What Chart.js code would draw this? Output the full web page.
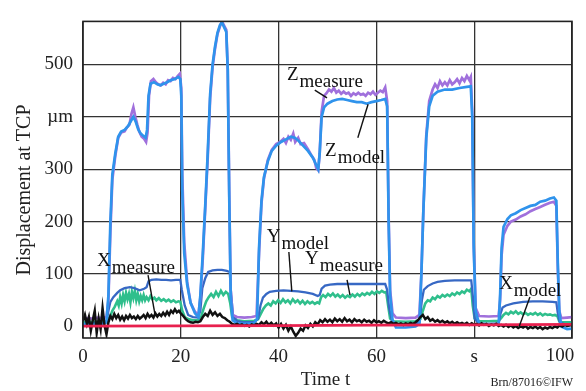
<!DOCTYPE html>
<html>
<head>
<meta charset="utf-8">
<script src="https://cdn.jsdelivr.net/npm/chart.js@4.4.0/dist/chart.umd.min.js"></script>
<style>
html,body{margin:0;padding:0;background:#fff;}
#wrap{width:586px;height:391px;}
</style>
</head>
<body>
<div id="wrap"><canvas id="c" width="586" height="391"></canvas></div>
<script>
// ---- tick labels ----
const xTickVals = [0, 20, 40, 60, 80, 100];
const xTickLabels = ["0", "20", "40", "60", "s", "100"];
const yTickVals = [0, 100, 200, 300, 400, 500];
const yTickLabels = ["0", "100", "200", "300", "µm", "500"];

// ---- series: [time s, displacement µm] ----
const zMeasure = [[0,14],[1,16],[2,15],[3,17],[4,16],[4.8,18],[5.2,50],[5.6,180],[6,280],[6.6,325],[7.2,360],[7.8,370],[8.5,372],[9,380],[9.5,385],[9.9,405],[10.3,418],[10.7,400],[11.1,385],[11.5,372],[12,362],[12.5,358],[12.9,352],[13.2,370],[13.5,440],[13.9,468],[14.4,472],[14.9,466],[15.4,462],[15.9,460],[16.4,465],[16.9,462],[17.4,470],[17.9,468],[18.4,474],[18.9,472],[19.4,478],[19.8,482],[20.1,455],[20.3,290],[20.7,160],[21.3,85],[22,45],[22.9,28],[23.6,22],[24,55],[24.5,130],[25,225],[25.5,320],[26,435],[26.5,495],[27,530],[27.5,558],[28,572],[28.4,582],[28.8,575],[29.3,566],[29.6,490],[29.9,260],[30.2,70],[30.6,22],[31.5,18],[33,17],[34.5,18],[35.5,20],[36,140],[36.5,235],[37,282],[37.8,318],[38.6,337],[39.5,348],[40.3,352],[41,358],[41.5,350],[42,362],[42.5,356],[43,368],[43.4,352],[44,360],[44.5,348],[45.2,350],[46,338],[46.8,325],[47.3,318],[47.7,302],[48.1,298],[48.4,330],[48.8,410],[49.3,440],[49.8,445],[50.3,452],[50.8,448],[51.3,455],[51.8,446],[52.3,450],[52.8,444],[53.3,448],[53.8,444],[54.3,446],[54.8,440],[55.3,445],[55.8,442],[56.3,446],[56.8,442],[57.3,444],[57.8,440],[58.3,446],[58.8,443],[59.3,448],[59.8,442],[60.3,446],[60.8,450],[61.3,447],[61.8,456],[62.2,430],[62.5,210],[62.8,70],[63.3,25],[64,17],[66,16],[68,17],[68.8,22],[69.2,100],[69.6,220],[70.2,365],[70.8,430],[71.5,452],[72,462],[72.5,455],[73,468],[73.5,460],[74,466],[74.5,460],[75,470],[75.5,462],[76,466],[76.5,472],[77,464],[77.5,474],[78,468],[78.5,478],[79,470],[79.3,476],[79.6,410],[79.9,160],[80.3,35],[81,20],[83,19],[85,20],[85.3,50],[85.6,135],[86,175],[86.8,192],[87.5,200],[88.5,204],[89.5,210],[90.5,214],[91.5,220],[92.5,224],[93.5,228],[94.5,232],[95.5,236],[96.3,238],[96.8,230],[97.1,110],[97.4,30],[97.8,16],[99,17],[100,18]];

const zModel = [[0,4],[1,5],[2,4],[3,6],[4,5],[4.8,8],[5.2,60],[5.6,200],[6,290],[6.6,330],[7.2,362],[7.8,372],[8.5,375],[9.2,382],[9.8,392],[10.3,400],[10.8,390],[11.3,376],[11.8,368],[12.3,364],[12.8,360],[13.1,375],[13.4,440],[13.8,463],[14.5,466],[15.2,462],[15.8,460],[16.5,463],[17.2,466],[18,470],[18.8,472],[19.5,476],[19.9,472],[20.1,440],[20.3,260],[20.7,140],[21.3,80],[22,45],[22.9,25],[23.6,18],[24,60],[24.5,140],[25,231],[25.5,330],[26,443],[26.5,500],[27,534],[27.5,560],[28,575],[28.4,580],[28.8,572],[29.3,562],[29.6,490],[29.9,250],[30.2,60],[30.6,12],[31.5,6],[33,5],[35,6],[35.6,15],[36,150],[36.5,240],[37,285],[37.8,315],[38.6,335],[39.5,345],[40.5,352],[41.5,357],[42.5,362],[43.3,360],[44,355],[45,345],[46,335],[47,322],[47.6,310],[48.1,300],[48.4,330],[48.8,400],[49.3,418],[50,425],[51,430],[52,433],[53,434],[54,432],[55,430],[56,428],[57,428],[58,425],[59,428],[60,430],[61,432],[61.8,434],[62.2,420],[62.5,200],[62.8,60],[63.3,12],[64,-2],[66,-2],[68,0],[68.8,5],[69.2,100],[69.6,220],[70.2,360],[70.8,420],[71.5,440],[72.5,448],[74,452],[75.5,452],[77,455],[78.5,457],[79.3,458],[79.6,400],[79.9,150],[80.3,30],[81,5],[83,4],[85,4],[85.3,60],[85.6,150],[86,190],[86.8,205],[87.5,212],[88.5,216],[89.5,222],[90.5,226],[91.5,230],[92.5,232],[93.5,238],[94.5,240],[95.5,244],[96.3,246],[96.8,240],[97.1,120],[97.4,30],[97.8,0],[99,-5],[100,-4]];

const yModel = [[0,5],[2,6],[4,6],[4.8,8],[5.2,30],[5.6,47],[6.2,56],[7,64],[7.6,69],[8.5,73],[9.6,75],[10.5,73],[11.6,69],[12.5,72],[13,75],[13.4,86],[14,89],[15,90],[16,89],[17,89],[18,88],[19,89],[19.9,89],[20.2,70],[20.8,40],[21.5,22],[22.5,18],[23.5,17],[24,30],[24.4,73],[25,92],[25.6,104],[26.5,107],[27.5,108],[28.4,108],[29.4,106],[30,104],[30.3,60],[30.7,20],[31.5,10],[33,8],[35,8],[35.8,15],[36.3,40],[36.8,55],[37.5,62],[38.2,66],[39.5,68],[41,69],[42.5,68],[44,67],[45.5,65],[47,62],[48,58],[48.4,60],[48.8,72],[49.5,78],[50.5,80],[52,81],[54,81],[56,81],[58,81],[60,81],[61.8,81],[62.2,70],[62.6,35],[63.2,10],[64,4],[66,4],[68,5],[68.8,8],[69.3,50],[69.7,70],[70.5,77],[71.5,82],[72.5,85],[74,87],[76,88],[78,88],[79.4,88],[79.7,60],[80.1,15],[81,5],[83,5],[85,6],[85.4,25],[85.8,36],[86.5,40],[88,44],[90,47],[92,48],[94,48],[96,47],[96.8,46],[97.1,25],[97.5,8],[98.5,4],[100,5]];

const yMeasure = [[0,8],[2,9],[4,9],[5,10],[5.6,20],[6,30],[6.5,38],[7,48],[7.3,40],[7.6,56],[7.9,44],[8.2,60],[8.5,48],[8.8,64],[9.1,52],[9.4,62],[9.7,46],[10,66],[10.3,54],[10.6,68],[10.9,50],[11.2,62],[11.5,48],[11.8,58],[12.1,50],[12.4,60],[12.7,50],[13,56],[13.4,50],[13.8,58],[14.2,52],[14.6,55],[15,50],[15.5,54],[16,49],[16.5,52],[17,48],[17.5,51],[18,47],[18.5,50],[19,46],[19.5,48],[19.9,47],[20.3,30],[20.8,18],[21.5,14],[22.5,12],[23.5,12],[24.2,20],[24.7,35],[25.2,48],[25.7,56],[26.2,62],[26.7,56],[27.2,66],[27.7,58],[28.2,68],[28.7,60],[29.2,66],[29.7,62],[30.1,45],[30.5,18],[31.5,12],[33,10],[35,11],[35.8,14],[36.4,25],[36.9,34],[37.4,40],[37.9,44],[38.4,40],[38.9,48],[39.4,44],[39.9,50],[40.4,45],[40.9,52],[41.4,46],[41.9,50],[42.4,44],[42.9,52],[43.4,46],[43.9,50],[44.4,44],[44.9,49],[45.4,43],[45.9,48],[46.4,44],[46.9,47],[47.4,43],[47.9,46],[48.3,44],[48.7,56],[49.1,60],[49.6,56],[50.1,62],[50.6,58],[51.1,63],[51.6,57],[52.1,61],[52.6,56],[53.1,60],[53.6,55],[54.1,59],[54.6,56],[55.1,61],[55.6,57],[56.1,62],[56.6,58],[57.1,63],[57.6,60],[58.1,64],[58.6,61],[59.1,66],[59.6,62],[60.1,67],[60.6,64],[61.1,68],[61.6,65],[62,66],[62.4,40],[62.8,15],[63.5,10],[66,9],[68,10],[69,14],[69.5,30],[70,44],[70.5,50],[71,48],[71.5,55],[72,52],[72.5,58],[73,55],[73.5,60],[74,57],[74.5,61],[75,58],[75.5,63],[76,60],[76.5,65],[77,62],[77.5,67],[78,64],[78.5,70],[79,67],[79.4,72],[79.7,40],[80.1,15],[81,10],[83,10],[85,11],[85.5,16],[86,22],[86.5,26],[87,23],[87.5,28],[88,25],[88.5,29],[89,24],[89.5,27],[90,23],[90.5,26],[91,22],[91.5,25],[92,23],[92.5,26],[93,22],[93.5,25],[94,21],[94.5,24],[95,22],[95.5,23],[96,21],[96.5,22],[97,20],[97.4,10],[98,8],[100,8]];

const xMeasure = [[0,10],[0.4,22],[0.8,5],[1.2,18],[1.6,-8],[2,12],[2.4,30],[2.8,-12],[3.2,15],[3.6,-5],[4,35],[4.4,2],[4.8,-15],[5.2,8],[5.6,20],[6,14],[6.4,24],[6.8,16],[7.2,22],[7.6,13],[8,19],[8.4,12],[8.8,20],[9.2,15],[9.6,22],[10,16],[10.4,19],[10.8,14],[11.2,20],[11.6,15],[12,18],[12.4,22],[12.8,16],[13.2,24],[13.6,18],[14,22],[14.4,17],[14.8,25],[15.2,19],[15.6,24],[16,20],[16.4,26],[16.8,21],[17.2,28],[17.6,22],[18,30],[18.4,26],[18.8,33],[19.2,27],[19.6,30],[20,25],[20.5,20],[21,14],[21.5,10],[22,8],[22.5,7],[23,9],[23.5,8],[24,10],[24.5,18],[25,24],[25.5,20],[26,30],[26.5,22],[27,27],[27.5,20],[28,24],[28.5,18],[29,16],[29.5,12],[30,9],[30.5,5],[31,3],[31.5,5],[32,2],[32.5,4],[33,1],[33.5,3],[34,0],[34.5,4],[35,2],[35.5,5],[36,3],[36.5,8],[37,4],[37.5,9],[38,3],[38.5,7],[39,2],[39.5,6],[40,-2],[40.5,5],[41,-4],[41.5,3],[42,-8],[42.5,0],[43,-10],[43.5,-18],[44,-12],[44.5,-4],[45,-8],[45.5,2],[46,-3],[46.5,5],[47,0],[47.5,8],[48,4],[48.5,12],[49,8],[49.5,14],[50,9],[50.5,13],[51,8],[51.5,15],[52,10],[52.5,14],[53,9],[53.5,16],[54,10],[54.5,13],[55,8],[55.5,14],[56,10],[56.5,12],[57,8],[57.5,13],[58,9],[58.5,11],[59,7],[59.5,12],[60,8],[60.5,10],[61,7],[61.5,11],[62,8],[62.5,6],[63,8],[63.5,5],[64,7],[64.5,4],[65,6],[65.5,3],[66,6],[66.5,4],[67,7],[67.5,5],[68,8],[68.5,12],[69,18],[69.5,22],[70,14],[70.5,18],[71,11],[71.5,14],[72,9],[72.5,12],[73,8],[73.5,11],[74,7],[74.5,10],[75,6],[75.5,9],[76,5],[76.5,8],[77,5],[77.5,7],[78,4],[78.5,7],[79,3],[79.5,6],[80,3],[80.5,5],[81,2],[81.5,6],[82,3],[82.5,5],[83,1],[83.5,4],[84,2],[84.5,5],[85,1],[85.5,3],[86,0],[86.5,3],[87,-1],[87.5,2],[88,-2],[88.5,1],[89,-3],[89.5,0],[90,-2],[90.5,1],[91,-4],[91.5,-1],[92,-3],[92.5,0],[93,-4],[93.5,-1],[94,-5],[94.5,-2],[95,-4],[95.5,-1],[96,-3],[96.5,0],[97,-2],[97.5,2],[98,0],[98.5,3],[99,1],[100,3]];

const xModel = [[0,0.5],[20,1],[40,1.5],[60,2.5],[80,3],[100,4]];

// ---- annotation labels (data coordinates) ----
const labelMain = ["X", "Z", "Z", "Y", "Y", "X"];
const labelSub = ["measure", "measure", "model", "model", "measure", "model"];
const labelAt = [[2.86,116],[41.7,471],[49.5,325],[37.6,162],[45.4,120],[85.1,71]];
const leaderFrom = [[13.3,98],[47.4,451],[56.2,360],[42.1,142],[54.0,89],[91.4,56]];
const leaderTo = [[14.7,24],[49.9,436],[58.3,424],[42.7,67],[54.6,60],[89.2,0]];

const SERIF = "'Liberation Serif', 'DejaVu Serif', serif";

const overlay = {
  id: 'overlay',
  afterDatasetsDraw(chart) {
    const {ctx, chartArea: a, scales} = chart;
    const xs = scales.x, ys = scales.y;
    ctx.save();
    // frame
    ctx.strokeStyle = '#222';
    ctx.lineWidth = 1.6;
    ctx.strokeRect(a.left, a.top, a.right - a.left, a.bottom - a.top);
    // leaders
    ctx.lineWidth = 1.4;
    ctx.strokeStyle = '#111';
    for (let i = 0; i < leaderFrom.length; i++) {
      ctx.beginPath();
      ctx.moveTo(xs.getPixelForValue(leaderFrom[i][0]), ys.getPixelForValue(leaderFrom[i][1]));
      ctx.lineTo(xs.getPixelForValue(leaderTo[i][0]), ys.getPixelForValue(leaderTo[i][1]));
      ctx.stroke();
    }
    // labels
    ctx.fillStyle = '#111';
    ctx.textBaseline = 'alphabetic';
    ctx.textAlign = 'left';
    for (let i = 0; i < labelMain.length; i++) {
      const px = xs.getPixelForValue(labelAt[i][0]);
      const py = ys.getPixelForValue(labelAt[i][1]);
      ctx.font = '19px ' + SERIF;
      ctx.fillText(labelMain[i], px, py);
      const w = ctx.measureText(labelMain[i]).width;
      ctx.fillText(labelSub[i], px + w + 1, py + 7);
    }
    ctx.restore();
  },
  afterDraw(chart) {
    const {ctx, chartArea: a, scales} = chart;
    ctx.save();
    ctx.fillStyle = '#222';
    // last x tick label (shifted inside like the original)
    ctx.font = '19px ' + SERIF;
    ctx.textAlign = 'center';
    ctx.textBaseline = 'middle';
    ctx.fillText(xTickLabels[xTickLabels.length - 1], scales.x.getPixelForValue(xTickVals[xTickVals.length - 1]) - 12, 356);
    // axis titles
    ctx.font = '19px ' + SERIF;
    ctx.textBaseline = 'alphabetic';
    ctx.fillText('Time t', (a.left + a.right) / 2 - 2, 385);
    ctx.save();
    ctx.translate(30, 190);
    ctx.rotate(-Math.PI / 2);
    ctx.textAlign = 'center';
    ctx.font = '20px ' + SERIF;
    ctx.fillText('Displacement at TCP', 0, 0);
    ctx.restore();
    // credit
    ctx.font = '12px ' + SERIF;
    ctx.textAlign = 'right';
    ctx.fillText('Brn/87016©IFW', 573, 386);
    ctx.restore();
  }
};

const mk = (label, data, color, width) => ({
  label, data, borderColor: color, backgroundColor: color,
  borderWidth: width, pointRadius: 0, tension: 0, fill: false
});

new Chart(document.getElementById('c'), {
  type: 'line',
  data: {
    datasets: [
      mk('X model', xModel, '#e8204e', 2.8),
      mk('X measure', xMeasure, '#111111', 2.5),
      mk('Z model', zModel, '#2f93ec', 2.7),
      mk('Z measure', zMeasure, '#a070dc', 2.7),
      mk('Y model', yModel, '#3768c4', 2.3),
      mk('Y measure', yMeasure, '#2fbf8c', 2.6)
    ]
  },
  options: {
    responsive: false,
    animation: false,
    devicePixelRatio: 1,
    layout: {padding: {top: 6, right: 14, left: 0, bottom: 0}},
    plugins: {legend: {display: false}, tooltip: {enabled: false}},
    scales: {
      x: {
        type: 'linear', min: 0, max: 100,
        afterFit: s => { s.height = 53; },
        afterBuildTicks: s => { s.ticks = xTickVals.map(v => ({value: v})); },
        border: {display: false},
        grid: {color: '#333', lineWidth: 1.3, drawTicks: false},
        ticks: {
          padding: 8, color: '#222', maxRotation: 0,
          font: {family: SERIF, size: 19},
          callback: (v) => {
            const i = xTickVals.indexOf(v);
            return (i < 0 || i === xTickVals.length - 1) ? '' : xTickLabels[i];
          }
        }
      },
      y: {
        type: 'linear', min: -22, max: 582,
        afterFit: s => { s.width = 83; },
        afterBuildTicks: s => { s.ticks = yTickVals.map(v => ({value: v})); },
        border: {display: false},
        grid: {
          color: c => (c.tick && c.tick.value === 0) ? 'rgba(0,0,0,0)' : '#333',
          lineWidth: 1.3, drawTicks: false
        },
        ticks: {
          padding: 10, color: '#222',
          font: {family: SERIF, size: 19},
          callback: (v) => {
            const i = yTickVals.indexOf(v);
            return i < 0 ? '' : yTickLabels[i];
          }
        }
      }
    }
  },
  plugins: [overlay]
});
</script>
</body>
</html>
